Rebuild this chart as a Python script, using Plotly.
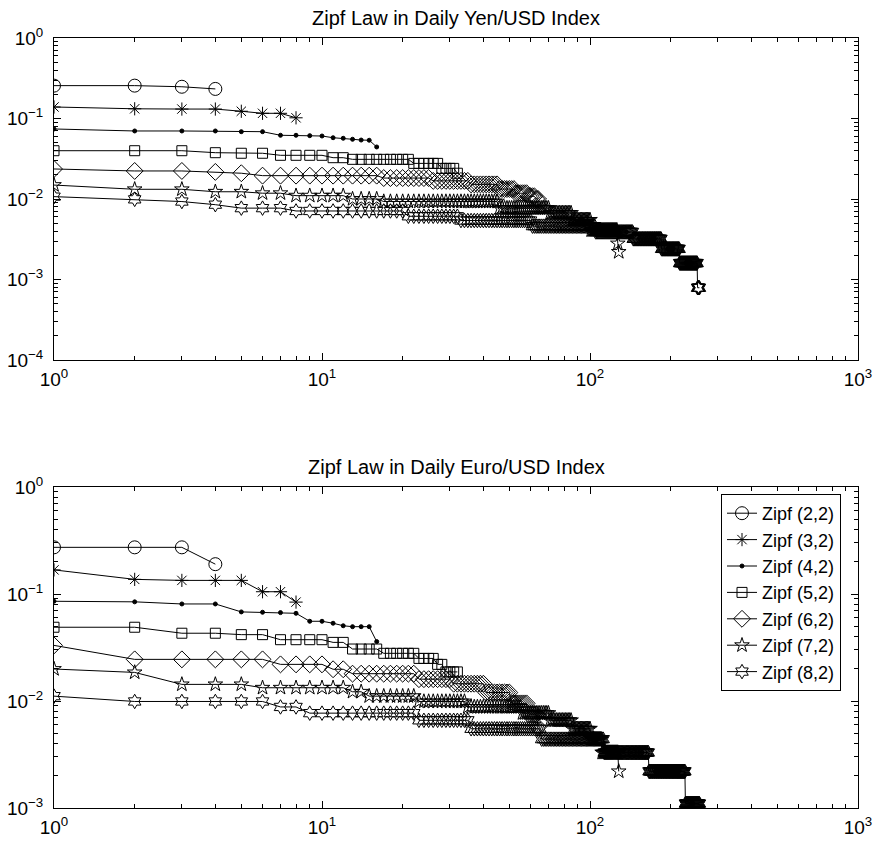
import numpy as np
import plotly.graph_objects as go
from plotly.subplots import make_subplots

# ---------------- data ----------------
series_names = ["Zipf (2,2)", "Zipf (3,2)", "Zipf (4,2)", "Zipf (5,2)",
                "Zipf (6,2)", "Zipf (7,2)", "Zipf (8,2)"]

# Yen/USD panel: short series listed point by point
yen_z2 = [0.256, 0.256, 0.248, 0.233]
yen_z3 = [0.139, 0.132, 0.131, 0.131, 0.123, 0.116, 0.116, 0.102]
yen_z4 = [0.0741, 0.0700, 0.0700, 0.0700, 0.0686, 0.0686, 0.0619, 0.0619,
          0.0612, 0.0606, 0.0577, 0.0568, 0.0552, 0.0540, 0.0537, 0.0443]
# longer series as plateaus: level value and last rank of that plateau
yen_z5_levels = [0.0398, 0.0376, 0.0370, 0.0349, 0.0326, 0.0311, 0.0277, 0.0240, 0.0209]
yen_z5_ends = [3, 4, 6, 10, 12, 21, 27, 31, 32]
yen_z6_levels = [0.0236, 0.0223, 0.0217, 0.0209, 0.0195, 0.0182, 0.0168, 0.0152,
                 0.0133, 0.0118, 0.0108, 0.0100]
yen_z6_ends = [1, 3, 4, 5, 16, 25, 35, 45, 52, 58, 62, 64]
yen_z7_levels = [0.0149, 0.0132, 0.0123, 0.0118, 0.0110, 0.0100, 0.0093, 0.0077,
                 0.0067, 0.0055, 0.0041, 0.0028, 0.0022]
yen_z7_ends = [1, 3, 5, 7, 12, 16, 45, 70, 85, 100, 126, 127, 128]
yen_z8_levels = [0.0107, 0.0099, 0.0093, 0.0085, 0.0077, 0.0071, 0.0061, 0.0054,
                 0.0046, 0.0039, 0.0032, 0.0024, 0.0016, 0.00079]
yen_z8_ends = [1, 2, 3, 4, 7, 20, 32, 60, 104, 144, 184, 215, 251, 256]

# Euro/USD panel
euro_z2 = [0.273, 0.273, 0.273, 0.190]
euro_z3 = [0.168, 0.137, 0.134, 0.134, 0.134, 0.105, 0.105, 0.084]
euro_z4 = [0.0855, 0.0845, 0.0807, 0.0807, 0.0680, 0.0675, 0.0670, 0.0660,
           0.0556, 0.0556, 0.0533, 0.0505, 0.0495, 0.0495, 0.0495, 0.0359]
euro_z5_levels = [0.0489, 0.0430, 0.0417, 0.0374, 0.0353, 0.0306, 0.0279, 0.0250, 0.0220, 0.0187]
euro_z5_ends = [2, 4, 6, 10, 12, 16, 22, 26, 28, 32]
euro_z6_levels = [0.0331, 0.0245, 0.0220, 0.0198, 0.0180, 0.0160, 0.0145, 0.0120,
                  0.0095, 0.0075, 0.0057]
euro_z6_ends = [1, 6, 10, 12, 22, 30, 40, 50, 58, 63, 64]
euro_z7_levels = [0.0199, 0.0185, 0.0143, 0.0133, 0.0122, 0.0111, 0.0099, 0.0088,
                  0.0077, 0.0066, 0.0055, 0.0044, 0.0033, 0.0022]
euro_z7_ends = [1, 2, 5, 12, 14, 22, 34, 55, 70, 85, 100, 110, 127, 128]
euro_z8_levels = [0.0111, 0.0099, 0.0088, 0.0077, 0.0066, 0.0055, 0.0044, 0.0033, 0.0022, 0.0011]
euro_z8_ends = [1, 6, 8, 22, 35, 65, 112, 165, 226, 256]

titles = ["Zipf Law in Daily Yen/USD Index", "Zipf Law in Daily Euro/USD Index"]
x_tickvals = [1, 10, 100, 1000]
x_ticktext = ["10<sup>0</sup>", "10<sup>1</sup>", "10<sup>2</sup>", "10<sup>3</sup>"]
y_tickvals_top = [1, 0.1, 0.01, 0.001, 0.0001]
y_ticktext_top = ["10<sup>0</sup>", "10<sup>\u22121</sup>", "10<sup>\u22122</sup>",
                  "10<sup>\u22123</sup>", "10<sup>\u22124</sup>"]
y_tickvals_bot = [1, 0.1, 0.01, 0.001]
y_ticktext_bot = ["10<sup>0</sup>", "10<sup>\u22121</sup>", "10<sup>\u22122</sup>",
                  "10<sup>\u22123</sup>"]


def expand(levels, ends):
    counts = np.diff([0] + list(ends))
    return list(np.repeat(levels, counts))


yen = [yen_z2, yen_z3, yen_z4,
       expand(yen_z5_levels, yen_z5_ends), expand(yen_z6_levels, yen_z6_ends),
       expand(yen_z7_levels, yen_z7_ends), expand(yen_z8_levels, yen_z8_ends)]
euro = [euro_z2, euro_z3, euro_z4,
        expand(euro_z5_levels, euro_z5_ends), expand(euro_z6_levels, euro_z6_ends),
        expand(euro_z7_levels, euro_z7_ends), expand(euro_z8_levels, euro_z8_ends)]

# ---------------- styling ----------------
symbols = ["circle-open", "asterisk-open", "circle", "square-open",
           "diamond-open", "star-open", "hexagram-open"]
sizes = [13, 11, 4, 10, 13, 11, 11]

W, H = 876, 846
PL, PR, PT, PB = 54, 858, 38, 808          # plot-area edges in page pixels
ML, MR, MT, MB = PL, W - PR, PT, H - PB
plot_h = H - MT - MB
plot_w = W - ML - MR


def ypaper(page_y):
    return (PB - page_y) / plot_h


top_dom = [ypaper(360), 1.0]
bot_dom = [0.0, ypaper(487)]

fig = make_subplots(rows=2, cols=1)

for row, data in ((1, yen), (2, euro)):
    for i, vals in enumerate(data):
        xs = list(range(1, len(vals) + 1))
        fig.add_trace(go.Scatter(
            x=xs, y=vals, mode="lines+markers", name=series_names[i],
            showlegend=(row == 2),
            line=dict(color="black", width=1),
            marker=dict(symbol=symbols[i], size=sizes[i], color="black",
                        line=dict(color="black", width=1)),
        ), row=row, col=1)

FONT = "Liberation Sans, Arial, Helvetica, sans-serif"


def minor_vals(lo, hi):
    return [m * 10.0 ** k for k in range(lo, hi) for m in range(2, 10)]


axis_common = dict(type="log", showgrid=False, zeroline=False, showline=True,
                   linecolor="black", linewidth=1, mirror="allticks",
                   automargin=False,
                   ticks="inside", ticklen=7, tickwidth=1, tickcolor="black",
                   tickfont=dict(family=FONT, size=19, color="black"))

fig.update_xaxes(**axis_common, range=[0, 3], tickmode="array",
                 tickvals=x_tickvals, ticktext=x_ticktext, ticklabelstandoff=2,
                 minor=dict(tickmode="array", tickvals=minor_vals(0, 3),
                            ticks="inside", ticklen=4, tickcolor="black", tickwidth=1,
                            showgrid=False))
fig.update_yaxes(**axis_common, ticklabelstandoff=6)
fig.update_yaxes(range=[-4, 0], tickmode="array", tickvals=y_tickvals_top,
                 ticktext=y_ticktext_top, domain=top_dom,
                 minor=dict(tickmode="array", tickvals=minor_vals(-4, 0),
                            ticks="inside", ticklen=4, tickcolor="black", tickwidth=1,
                            showgrid=False), row=1, col=1)
fig.update_yaxes(range=[-3, 0], tickmode="array", tickvals=y_tickvals_bot,
                 ticktext=y_ticktext_bot, domain=bot_dom,
                 minor=dict(tickmode="array", tickvals=minor_vals(-3, 0),
                            ticks="inside", ticklen=4, tickcolor="black", tickwidth=1,
                            showgrid=False), row=2, col=1)

annotations = []
for dom, t in ((top_dom, titles[0]), (bot_dom, titles[1])):
    annotations.append(dict(text=t, x=0.5, xref="paper", y=dom[1], yref="paper",
                            xanchor="center", yanchor="bottom", yshift=7,
                            showarrow=False,
                            font=dict(family=FONT, size=20, color="black")))

fig.update_layout(
    width=W, height=H,
    margin=dict(l=ML, r=MR, t=MT, b=MB, autoexpand=False),
    paper_bgcolor="white", plot_bgcolor="white",
    annotations=annotations,
    font=dict(family=FONT, size=19, color="black"),
    legend=dict(x=(841 - PL) / plot_w, y=ypaper(494),
                xanchor="right", yanchor="top",
                bgcolor="white", bordercolor="black", borderwidth=1,
                font=dict(family=FONT, size=18, color="black"),
                tracegroupgap=0, itemsizing="trace"),
    showlegend=True,
)

# remove the page's default body margin so the figure fills the window exactly
fig.write_html("out.html",
               config={"displayModeBar": False},
               post_script="document.body.style.margin='0px';"
                           "document.body.style.overflow='hidden';")
